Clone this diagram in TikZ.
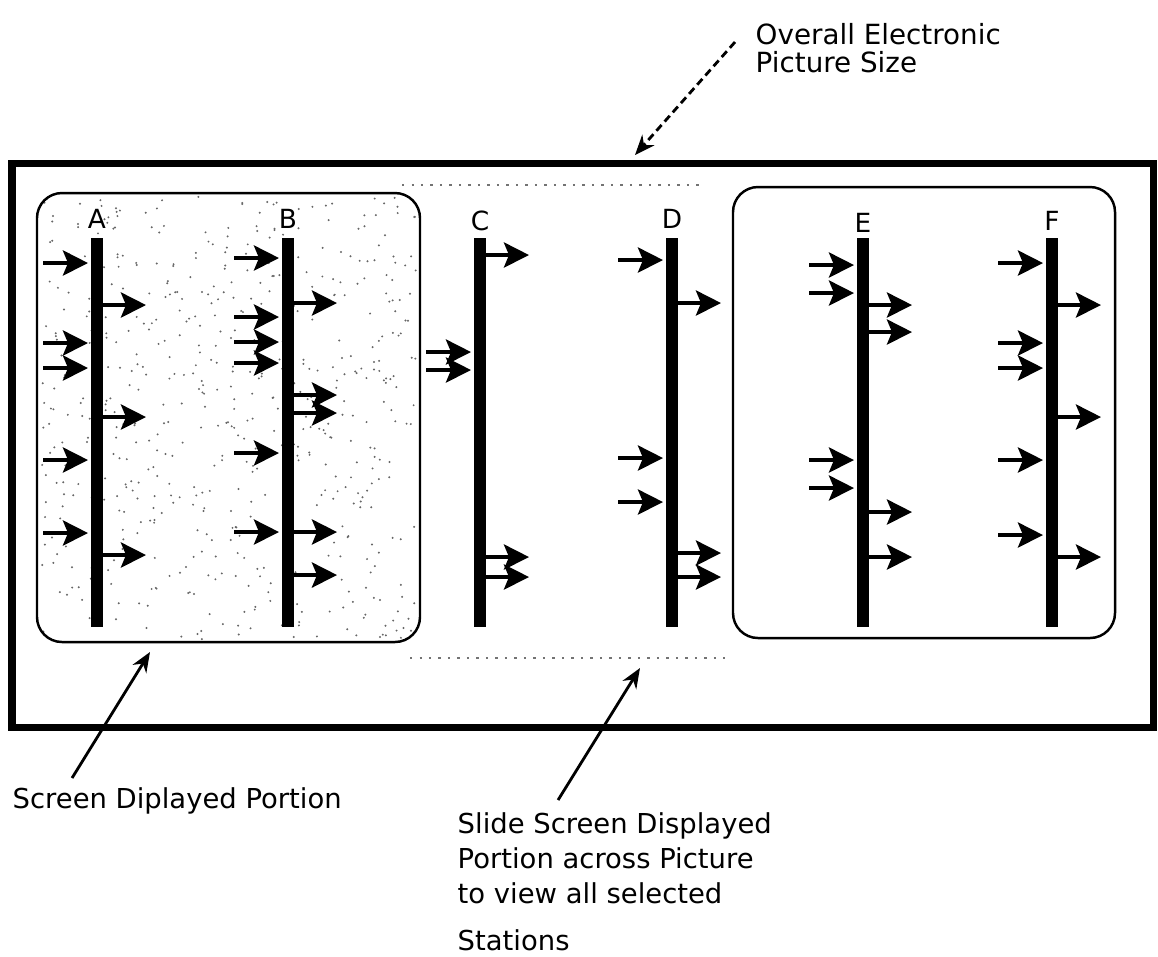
\documentclass[tikz,border=0pt]{standalone}
\usepackage{fontspec}
\setmainfont{DejaVu Sans}
\usetikzlibrary{arrows.meta}
\tikzset{
	frame/.style  ={draw=black, line width=0.07cm},
	screen/.style ={draw=black, line width=0.7pt, rounded corners=0.25cm},
	track/.style  ={dotted, black!55, line width=0.7pt},
	bus/.style    ={line width=0.12cm, line cap=butt},
	sig/.style    ={-{Stealth[length=0.25cm, width=0.25cm, inset=0.05cm]}, line width=1.2pt},
	callout/.style={-{Stealth[length=0.2cm, width=0.16cm]}, line width=0.8pt},
	lbl/.style    ={font=\fontsize{7.5}{7.5}\selectfont, inner sep=0pt, anchor=base},
	note/.style   ={font=\fontsize{7.8}{9.96}\selectfont, align=left, inner sep=0pt, anchor=north west},
}

\begin{document}
\begin{tikzpicture}[x=0.01cm, y=-0.01cm]
	\useasboundingbox (0,0) rectangle (1158,956);
	\draw[frame] (12,163) rectangle (1153,727);
	% stippled screen portion
	\begin{scope}
		\clip[rounded corners=0.25cm] (37,193) rectangle (420,642);
		\pgfmathsetseed{11}
		\foreach \i in {1,...,600} \fill[black!60] ({40+378*rnd},{196+444*rnd}) circle (1.1);
	\end{scope}
	\draw[screen] (37,193) rectangle (420,642);
	\draw[screen] (733,187) rectangle (1115,638);
	\draw[track] (402,185) -- (700,185);
	\draw[track] (410,658) -- (725,658);
	% stations
	\foreach \bx/\nm/\ly/\ins/\outs in {
			97/A/228/{263,343,368,460,533}/{305,417,555},
			288/B/228/{258,317,342,363,453,532}/{303,395,413,532,575},
			480/C/230/{352,370}/{255,557,577},
			672/D/228/{260,458,502}/{303,553,577},
			863/E/232/{265,293,460,488}/{305,332,512,557},
			1052/F/230/{263,343,368,460,535}/{305,417,557}}{
		\node[lbl] (l\nm) at (\bx,\ly) {\nm};
		\draw[bus] (\bx,238) -- (\bx,627);
		\foreach \y in \ins \draw[sig] (\bx-54,\y) -- (\bx-9,\y);
		\foreach \y in \outs \draw[sig] (\bx+6,\y) -- (\bx+49,\y);
	}
	% callouts
	\node[note, font=\fontsize{7.9}{7.97}\selectfont] (size) at (755,23) {Overall Electronic\\Picture Size};
	\node[note] (shown) at (12,787) {Screen Diplayed Portion};
	\node[note] (slide) at (457,812) {Slide Screen Displayed\\Portion across Picture\\to view all selected\\[3.4pt]Stations};
	\coordinate (sizetip) at (635,155);
	\coordinate (showntip) at (150,652);
	\coordinate (slidetip) at (640,668);
	\draw[callout, dash pattern=on 2.2pt off 1.3pt] ([xshift=-0.2cm, yshift=-0.19cm]size.north west) -- (sizetip);
	\draw[callout] ([xshift=0.6cm, yshift=0.09cm]shown.north west) -- (showntip);
	\draw[callout] ([xshift=1.01cm, yshift=0.12cm]slide.north west) -- (slidetip);
\end{tikzpicture}
\end{document}
